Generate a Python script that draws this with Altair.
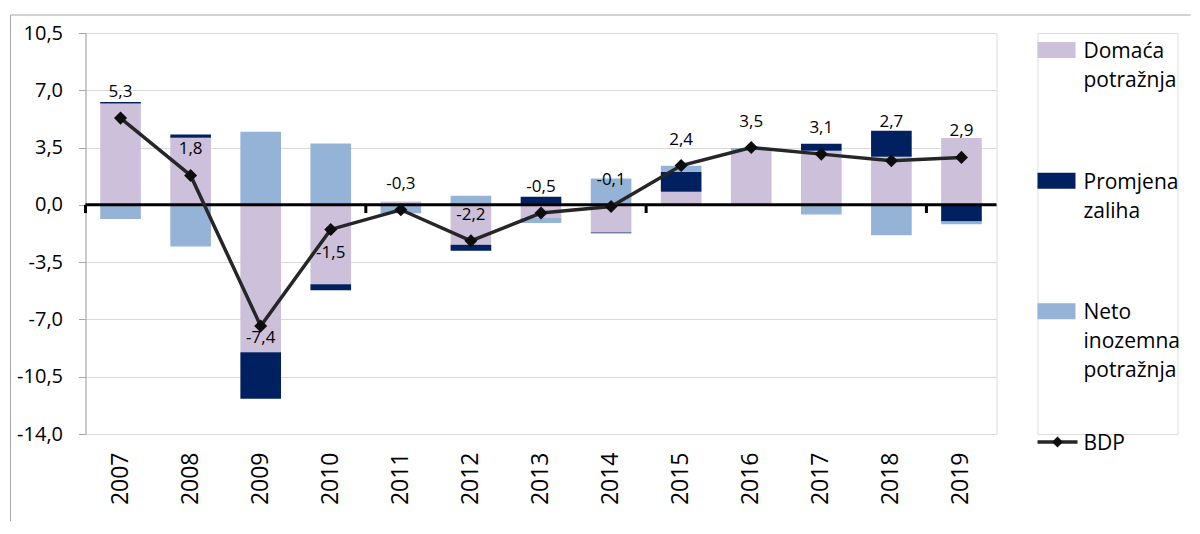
import altair as alt
import pandas as pd

FONT = "Open Sans"

years = ["2007", "2008", "2009", "2010", "2011", "2012", "2013",
         "2014", "2015", "2016", "2017", "2018", "2019"]
domaca = [6.2, 4.1, -9.0, -4.85, 0.2, -2.44, -0.77, -1.69, 0.8, 3.3, 3.3, 2.94, 4.08]
zalihe = [0.08, 0.2, -2.85, -0.37, 0.0, -0.37, 0.49, -0.05, 1.22, 0.0, 0.43, 1.59, -1.02]
neto = [-0.87, -2.55, 4.46, 3.75, -0.52, 0.55, -0.34, 1.61, 0.37, 0.17, -0.59, -1.86, -0.16]
bdp = [5.3, 1.8, -7.4, -1.5, -0.3, -2.2, -0.5, -0.1, 2.4, 3.5, 3.1, 2.7, 2.9]

series = ["Domaća potražnja", "Promjena zaliha", "Neto inozemna potražnja"]
colors = ["#CCC0DA", "#002060", "#95B3D7"]
legend_names = series + ["BDP"]
legend_texts = ["Domaća\npotražnja", "Promjena\nzaliha", "Neto\ninozemna\npotražnja", "BDP"]
y_ticks = [-14.0, -10.5, -7.0, -3.5, 0.0, 3.5, 7.0, 10.5]
axis_tick_years = ["2007", "2011", "2015", "2019"]

rows = []
for i, y in enumerate(years):
    for k, (s, vals) in enumerate(zip(series, [domaca, zalihe, neto])):
        rows.append({"year": y, "series": s, "value": vals[i], "ord": k})
bar_df = pd.DataFrame(rows)
gdp_df = pd.DataFrame({"year": years, "bdp": bdp})
leg_df = pd.DataFrame({"name": legend_names, "text": legend_texts})
one = pd.DataFrame({"a": [0]})

MINUS = "\u2212"
fmt = lambda f: f"replace(replace(format({f}, '.1f'), '.', ','), '{MINUS}', '-')"

x_enc = alt.X(
    "year:N", sort=years,
    scale=alt.Scale(paddingInner=0.42, paddingOuter=0.21),
    axis=alt.Axis(title=None, labelAngle=270, domain=False, ticks=False, grid=False,
                  labelPadding=18, labelFont=FONT, labelFontSize=23, labelColor="black"),
)
y_scale = alt.Scale(domain=[-14, 10.5], nice=False, zero=False)
y_axis = alt.Axis(values=y_ticks, title=None, labelExpr=fmt("datum.value"),
                  grid=True, gridColor="#D9D9D9", gridWidth=1,
                  domainColor="#A6A6A6", tickColor="#A6A6A6", tickSize=7,
                  labelPadding=16, labelFont=FONT, labelFontSize=20, labelColor="black")

color_scale = alt.Scale(domain=series, range=colors)

bars = alt.Chart(bar_df).mark_bar().encode(
    x=x_enc,
    y=alt.Y("value:Q", scale=y_scale, axis=y_axis, stack="zero"),
    color=alt.Color("series:N", scale=color_scale, legend=None),
    order=alt.Order("ord:Q"),
)

zero_line = alt.Chart(one).mark_rule(color="black", strokeWidth=3).encode(y=alt.datum(0))

cat_ticks = alt.Chart(pd.DataFrame({"year": axis_tick_years})).mark_rule(
    color="black", strokeWidth=3, xOffset=-14.7
).encode(
    x=alt.X("year:N", sort=years, bandPosition=0),
    y=alt.datum(0), y2=alt.datum(-0.5),
)

line = alt.Chart(gdp_df).mark_line(color="#262626", strokeWidth=3.5).encode(
    x=alt.X("year:N", sort=years), y="bdp:Q"
)
pts = alt.Chart(gdp_df).mark_point(shape="diamond", filled=True, size=170,
                                    color="#0D0D0D", opacity=1).encode(
    x=alt.X("year:N", sort=years), y="bdp:Q"
)

def labels(cond, dy):
    return alt.Chart(gdp_df).transform_calculate(lbl=fmt("datum.bdp")).transform_filter(cond).mark_text(
        font=FONT, fontSize=17, color="black", dy=dy
    ).encode(x=alt.X("year:N", sort=years), y="bdp:Q", text="lbl:N")

lab_main = labels("datum.year != '2009' && datum.year != '2010' && datum.year != '2018'", -26)
lab_09 = labels("datum.year == '2009'", 12)
lab_10 = labels("datum.year == '2010'", 24)
lab_18 = labels("datum.year == '2018'", -39)

border_left = alt.Chart(one).mark_rule(color="#A6A6A6", strokeWidth=1).encode(
    x=alt.value(-75), y=alt.value(-18), y2=alt.value(488))
border_top = alt.Chart(one).mark_rule(color="#A6A6A6", strokeWidth=1).encode(
    x=alt.value(-75), x2=alt.value(1105), y=alt.value(-18))

main = alt.layer(
    bars, zero_line, cat_ticks, line, pts, lab_main, lab_09, lab_10, lab_18,
    border_left, border_top
).properties(width=911, height=401)

y_leg = alt.Y("name:N", sort=legend_names,
              scale=alt.Scale(type="point", range=[17, 409], padding=0), axis=None)

sw = alt.Chart(leg_df).transform_filter("datum.name != 'BDP'").mark_point(
    shape="M-1,-0.42H1V0.42H-1Z", size=1444, filled=True, opacity=1, strokeWidth=0
).encode(x=alt.value(19), y=y_leg,
         color=alt.Color("name:N", scale=color_scale, legend=None))
leg_line = alt.Chart(leg_df).transform_filter("datum.name == 'BDP'").mark_rule(
    color="#262626", strokeWidth=3.5).encode(x=alt.value(0), x2=alt.value(40), y=y_leg)
leg_pt = alt.Chart(leg_df).transform_filter("datum.name == 'BDP'").mark_point(
    shape="diamond", filled=True, size=121, color="#0D0D0D", opacity=1
).encode(x=alt.value(20), y=y_leg)
leg_txt = alt.Chart(leg_df).mark_text(
    align="left", baseline="alphabetic", dy=8, font=FONT, fontSize=21,
    lineBreak="\n", lineHeight=29, color="black"
).encode(x=alt.value(46), y=y_leg, text="text:N")

legend = alt.layer(sw, leg_line, leg_pt, leg_txt).properties(width=140, height=401)

chart = alt.hconcat(main, legend, spacing=41, bounds="flush").properties(
    padding={"left": 1.5, "top": 6, "right": 0, "bottom": 0}
).configure_view(stroke=None).configure(font=FONT)

chart.save("out.html", embed_options={"renderer": "svg", "actions": False})
